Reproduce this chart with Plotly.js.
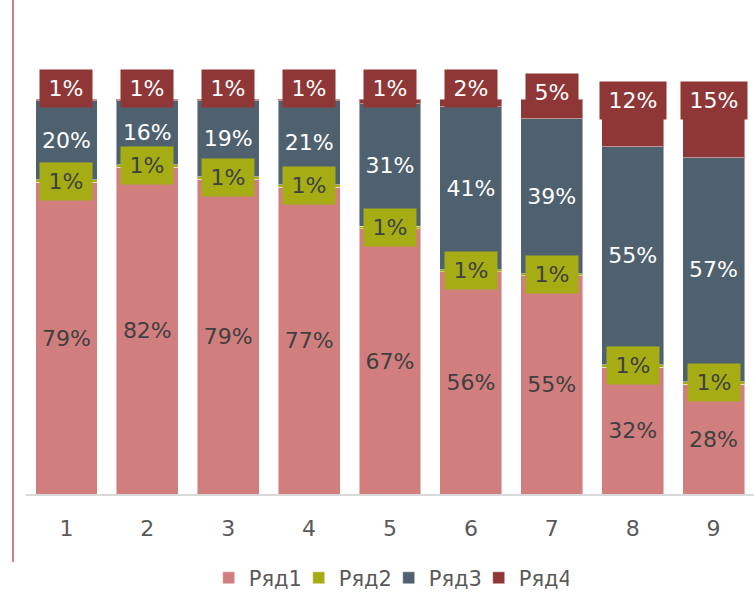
<!DOCTYPE html>
<html>
<head>
<meta charset="utf-8">
<script src="https://cdn.plot.ly/plotly-3.0.1.min.js"></script>
<style>html,body{margin:0;padding:0;background:#fff;}#chart{width:756px;height:592px;}</style>
</head>
<body>
<div id="chart"></div>
<script>
const categories = ['1','2','3','4','5','6','7','8','9'];
const seriesNames = ['Ряд1','Ряд2','Ряд3','Ряд4'];
const ryad1 = [79, 82, 79, 77, 67, 56, 55, 32, 28];
const ryad2 = [0.6, 0.6, 0.6, 0.6, 0.6, 0.6, 0.6, 0.6, 0.6];
const ryad3 = [20, 16, 19, 21, 31, 41, 39, 55, 57];
const ryad4 = [0.5, 0.5, 0.5, 0.5, 1.2, 2, 5, 12, 15];

const colors = ['#D17E7E', '#A6AD14', '#4F616E', '#8F3636'];
const FONT = 'DejaVu Sans, Verdana, sans-serif';
const FS = 22;

const pct = v => Math.round(v) + '%';
const totals = categories.map((c, i) => ryad1[i] + ryad2[i] + ryad3[i] + ryad4[i]);

const series = [ryad1, ryad2, ryad3, ryad4];
const textColors = ['#404040', '#404040', '#FFFFFF', '#FFFFFF'];

const traces = series.map((vals, s) => ({
  type: 'bar',
  name: seriesNames[s],
  x: categories,
  y: vals,
  marker: {color: colors[s], line: {color: 'rgba(255,255,255,0.45)', width: 1}},
  text: (s === 0 || s === 2) ? vals.map(pct) : undefined,
  textposition: (s === 0 || s === 2) ? 'inside' : 'none',
  insidetextanchor: 'middle',
  textangle: 0,
  constraintext: 'none',
  textfont: {family: FONT, size: FS, color: textColors[s]},
  hoverinfo: 'skip'
}));

function boxWidth(label) {
  const digits = label.length - 1;
  return digits * 14 + 21 + 17;
}

const annotations = [];
categories.forEach((c, i) => {
  const t = totals[i];
  // Ряд2 callout, centred on its band
  const y2 = (ryad1[i] + ryad2[i] / 2) / t * 100;
  const l2 = pct(ryad2[i]);
  annotations.push({
    x: i, y: y2, xref: 'x', yref: 'y', text: l2, showarrow: false,
    xanchor: 'center', yanchor: 'middle',
    bgcolor: colors[1], borderpad: 0, width: boxWidth(l2), height: 37,
    font: {family: FONT, size: FS, color: '#404040'}
  });
  // Ряд4 callout at the top of the bar
  const v4 = ryad4[i];
  const l4 = pct(v4);
  const shift = v4 < 3 ? 11 : (v4 < 10 ? 7 : -1);
  annotations.push({
    x: i, y: 100, xref: 'x', yref: 'y', text: l4, showarrow: false,
    xanchor: 'center', yanchor: 'middle', yshift: shift,
    bgcolor: colors[3], borderpad: 0, width: boxWidth(l4), height: 37,
    font: {family: FONT, size: FS, color: '#FFFFFF'}
  });
});

const layout = {
  width: 756, height: 592,
  margin: {l: 26, r: 2, t: 99, b: 98, autoexpand: false},
  paper_bgcolor: '#FFFFFF', plot_bgcolor: '#FFFFFF',
  barmode: 'stack', barnorm: 'percent', bargap: 0.235,
  font: {family: FONT, size: FS, color: '#595959'},
  xaxis: {
    type: 'category', categoryarray: categories, range: [-0.5, 8.5],
    showline: true, linecolor: '#D9D9D9', linewidth: 2,
    ticks: '', showgrid: false, zeroline: false,
    tickfont: {family: FONT, size: FS, color: '#595959'},
    ticklabelstandoff: 14
  },
  yaxis: {range: [0, 100], visible: false, showgrid: false, zeroline: false, fixedrange: true},
  showlegend: true,
  legend: {
    orientation: 'h', x: 0.251, xanchor: 'left', y: -0.213, yanchor: 'middle',
    font: {family: FONT, size: 21, color: '#595959'}, traceorder: 'normal',
    entrywidth: 45, entrywidthmode: 'pixels',
    itemclick: false, itemdoubleclick: false
  },
  annotations: annotations,
  shapes: [{
    type: 'line', xref: 'paper', yref: 'paper',
    x0: -0.0179, x1: -0.0179, y0: 1.26, y1: -0.172,
    line: {color: '#D08080', width: 2}
  }],
  hovermode: false
};

Plotly.newPlot('chart', traces, layout, {displayModeBar: false, staticPlot: true});
</script>
</body>
</html>
